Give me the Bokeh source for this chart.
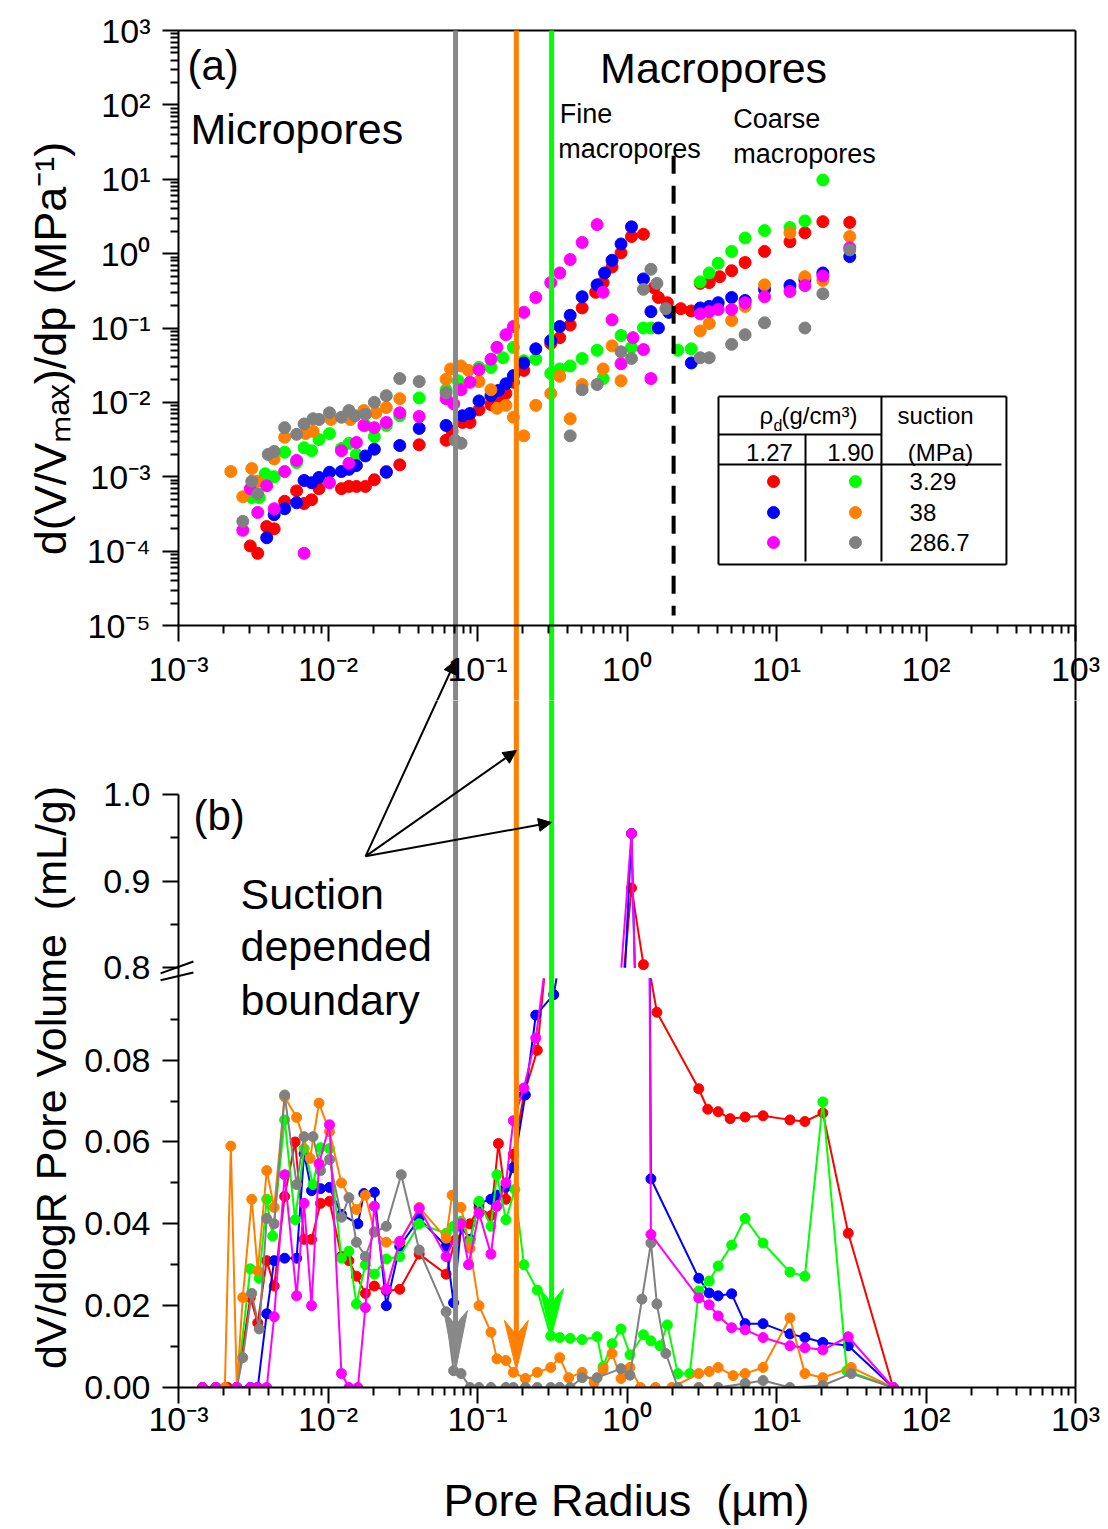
import numpy as np
from bokeh.plotting import figure
from bokeh.layouts import column
from bokeh.models import Range1d, LogAxis, LinearAxis, FixedTicker, Arrow, NormalHead
from bokeh.core.properties import value
from bokeh.embed import file_html
from bokeh.resources import INLINE

FONT = "Liberation Sans"
COLORS = {"red": "#FF0000", "blue": "#0000FF", "magenta": "#FF00FF",
          "green": "#00FF00", "orange": "#FF8000", "gray": "#808080"}

# ---------------- panel (a): log10(pore radius, um) and log10(d(V/Vmax)/dp, 1/MPa)
a_red_log_r = [-2.52,-2.47,-2.41,-2.36,-2.29,-2.21,-2.16,-2.11,-2.06,-1.91,-1.86,-1.81,-1.75,-1.69,-1.61,-1.52,-1.39,-1.21,-1.17,-1.10,-1.05,-0.99,-0.91,-0.86,-0.81,-0.76,-0.69,-0.51,-0.45,-0.38,-0.30,-0.21,-0.16,-0.10,-0.04,0.03,0.11,0.18,0.21,0.27,0.36,0.43,0.49,0.55,0.62,0.70,0.79,0.92,1.09,1.19,1.31,1.49]
a_red_log_v = [-3.93,-4.03,-3.67,-3.70,-3.33,-3.19,-3.36,-3.31,-3.16,-3.16,-3.13,-3.13,-3.13,-3.04,-2.93,-2.84,-2.57,-2.51,-2.39,-2.27,-2.27,-2.10,-2.03,-1.98,-1.88,-1.73,-1.57,-1.21,-1.13,-0.96,-0.73,-0.52,-0.39,-0.18,0.01,0.23,0.26,-0.46,-0.59,-0.66,-0.74,-0.77,-0.40,-0.39,-0.31,-0.23,-0.12,0.03,0.16,0.28,0.43,0.42]

a_blue_log_r = [-2.41,-2.36,-2.29,-2.21,-2.16,-2.11,-2.06,-1.99,-1.91,-1.86,-1.81,-1.75,-1.69,-1.61,-1.52,-1.39,-1.21,-1.10,-1.05,-0.99,-0.91,-0.86,-0.81,-0.76,-0.69,-0.61,-0.51,-0.45,-0.38,-0.30,-0.20,-0.15,-0.10,-0.04,0.03,0.11,0.16,0.21,0.28,0.43,0.49,0.55,0.61,0.70,0.79,0.92,1.09,1.19,1.31,1.49]
a_blue_log_v = [-3.82,-3.51,-3.43,-3.35,-3.05,-3.08,-3.01,-2.94,-2.93,-2.90,-2.85,-2.72,-2.63,-2.94,-2.58,-2.35,-2.31,-2.18,-2.15,-1.98,-1.91,-1.84,-1.75,-1.64,-1.47,-1.28,-1.17,-0.98,-0.83,-0.58,-0.42,-0.26,-0.09,0.13,0.36,-0.34,-0.78,-1.00,-0.79,-1.47,-0.73,-0.71,-0.66,-0.59,-0.63,-0.48,-0.43,-0.35,-0.26,-0.04]

a_magenta_log_r = [-2.57,-2.52,-2.47,-2.41,-2.36,-2.29,-2.21,-2.16,-1.99,-1.91,-1.86,-1.81,-1.76,-1.69,-1.61,-1.52,-1.39,-1.21,-1.16,-1.11,-1.05,-0.99,-0.91,-0.87,-0.81,-0.76,-0.69,-0.61,-0.51,-0.45,-0.38,-0.30,-0.20,-0.16,-0.10,-0.04,0.04,0.11,0.16,0.49,0.55,0.61,0.70,0.79,0.92,1.09,1.19,1.31,1.49]
a_magenta_log_v = [-3.72,-3.16,-3.48,-3.12,-3.43,-2.93,-2.78,-4.03,-3.08,-2.65,-2.82,-2.54,-2.31,-2.34,-2.27,-2.14,-2.19,-1.95,-2.02,-1.83,-1.73,-1.56,-1.42,-1.26,-1.09,-0.98,-0.79,-0.59,-0.39,-0.26,-0.08,0.15,0.39,-0.52,-0.89,-1.48,-1.13,-1.29,-1.68,-0.81,-0.78,-0.75,-0.75,-0.66,-0.58,-0.51,-0.43,-0.30,0.08]

a_green_log_r = [-2.51,-2.46,-2.42,-2.36,-2.29,-2.21,-2.16,-2.11,-2.06,-1.99,-1.91,-1.86,-1.81,-1.75,-1.69,-1.61,-1.52,-1.39,-1.21,-1.13,-0.99,-0.91,-0.83,-0.76,-0.69,-0.61,-0.51,-0.45,-0.38,-0.30,-0.20,-0.16,-0.04,0.03,0.11,0.16,0.34,0.43,0.49,0.55,0.61,0.70,0.79,0.92,1.09,1.19,1.31]
a_green_log_v = [-3.28,-3.28,-2.96,-3.00,-2.67,-2.81,-2.61,-2.65,-2.50,-2.42,-2.62,-2.55,-2.70,-2.31,-2.46,-2.31,-2.18,-1.94,-1.83,-1.71,-1.53,-1.53,-1.40,-1.26,-1.44,-1.42,-1.61,-1.55,-1.51,-1.41,-1.30,-1.68,-1.10,-1.26,-1.00,-1.00,-1.30,-1.28,-0.38,-0.26,-0.13,0.03,0.21,0.31,0.35,0.44,0.99]

a_orange_log_r = [-2.65,-2.57,-2.51,-2.47,-2.36,-2.29,-2.15,-2.10,-1.98,-1.85,-1.76,-1.68,-1.61,-1.52,-1.21,-1.18,-1.11,-1.06,-0.99,-0.91,-0.87,-0.81,-0.76,-0.69,-0.61,-0.51,-0.45,-0.38,-0.30,-0.16,-0.10,-0.04,0.49,0.55,0.70,0.79,0.92,1.09,1.19,1.31,1.49]
a_orange_log_v = [-2.93,-3.27,-2.89,-3.06,-2.76,-2.47,-2.42,-2.39,-2.23,-2.23,-2.11,-2.14,-2.07,-1.95,-1.69,-1.55,-1.51,-1.57,-1.72,-1.83,-2.08,-2.04,-2.20,-2.45,-2.04,-1.88,-1.65,-2.22,-1.76,-1.55,-1.24,-1.71,-1.04,-0.94,-0.90,-0.71,-0.42,0.28,-0.31,-0.36,0.23]

a_gray_log_r = [-2.57,-2.51,-2.47,-2.40,-2.36,-2.29,-2.21,-2.16,-2.10,-2.06,-1.99,-1.91,-1.86,-1.82,-1.75,-1.69,-1.61,-1.52,-1.39,-1.21,-1.15,-1.11,-0.38,-0.30,-0.20,-0.04,0.03,0.11,0.16,0.20,0.26,0.49,0.55,0.70,0.79,0.92,1.19,1.31,1.49]
a_gray_log_v = [-3.60,-3.06,-3.23,-2.70,-2.66,-2.34,-2.43,-2.29,-2.22,-2.23,-2.14,-2.20,-2.11,-2.18,-2.16,-2.00,-1.91,-1.68,-1.72,-1.87,-2.51,-2.55,-2.45,-1.83,-1.76,-1.32,-1.41,-0.48,-0.21,-0.40,-0.74,-1.40,-1.40,-1.22,-1.09,-0.93,-1.00,-0.54,0.05]

# ---------------- panel (b): log10(pore radius, um) and dV/dlogR (mL/g)
b_red_log_r = [-2.84,-2.75,-2.67,-2.61,-2.52,-2.47,-2.41,-2.36,-2.29,-2.22,-2.16,-2.11,-2.05,-1.99,-1.91,-1.86,-1.81,-1.75,-1.69,-1.61,-1.52,-1.39,-1.21,-1.15,-1.05,-0.99,-0.91,-0.86,-0.81,-0.76,-0.69,-0.60,-0.45,-0.25,-0.06,0.03,0.11,0.155,0.20,0.48,0.54,0.61,0.69,0.79,0.91,1.09,1.19,1.31,1.48,1.78]
b_red_v = [0,0,0,0,0.022,0.0158,0.031,0.0248,0.0467,0.060,0.0362,0.0362,0.045,0.0455,0.032,0.031,0.0272,0.023,0.0248,0.0236,0.024,0.0326,0.0277,0.036,0.040,0.044,0.042,0.0596,0.046,0.057,0.0715,0.0824,0.14,0.35,0.72,0.892,0.8035,0.101,0.0917,0.073,0.068,0.0674,0.0657,0.0661,0.0664,0.0654,0.065,0.0671,0.0377,0]

b_blue_log_r = [-2.84,-2.75,-2.61,-2.52,-2.47,-2.41,-2.36,-2.29,-2.21,-2.16,-2.11,-2.05,-1.99,-1.91,-1.80,-1.76,-1.69,-1.61,-1.52,-1.39,-1.21,-1.16,-1.11,-1.05,-0.99,-0.91,-0.87,-0.81,-0.76,-0.68,-0.61,-0.49,-0.38,-0.20,-0.04,0.03,0.16,0.48,0.55,0.61,0.70,0.79,0.91,1.09,1.19,1.31,1.48,1.78]
b_blue_v = [0,0,0,0,0,0.018,0.031,0.0316,0.0316,0.0571,0.0481,0.0486,0.0489,0.0423,0.040,0.0474,0.0477,0.020,0.0345,0.0413,0.0345,0.0207,0.0394,0.0362,0.045,0.046,0.047,0.049,0.0537,0.0715,0.091,0.096,0.12,0.35,0.70,0.955,0.051,0.0267,0.0231,0.0224,0.0229,0.0156,0.0156,0.0131,0.0122,0.011,0.0102,0]

b_magenta_log_r = [-2.84,-2.75,-2.61,-2.52,-2.47,-2.41,-2.36,-2.29,-2.21,-2.16,-2.11,-2.06,-1.99,-1.91,-1.86,-1.80,-1.75,-1.69,-1.61,-1.52,-1.39,-1.21,-1.11,-1.06,-0.99,-0.91,-0.87,-0.81,-0.76,-0.69,-0.61,-0.45,-0.25,-0.06,0.03,0.16,0.48,0.55,0.61,0.70,0.79,0.91,1.09,1.19,1.31,1.48,1.78]
b_magenta_v = [0,0,0,0,0,0,0.0173,0.052,0.0224,0.045,0.020,0.0547,0.0642,0.0034,0,0,0.0195,0.0443,0.024,0.0357,0.0438,0.032,0.040,0.030,0.0426,0.0326,0.0443,0.050,0.0652,0.0732,0.0854,0.13,0.45,0.75,0.955,0.0374,0.0219,0.0202,0.0175,0.0146,0.0141,0.0122,0.0102,0.0097,0.0092,0.0124,0]

b_green_log_r = [-2.84,-2.75,-2.61,-2.52,-2.46,-2.41,-2.37,-2.29,-2.22,-2.16,-2.10,-2.05,-1.99,-1.91,-1.86,-1.81,-1.75,-1.69,-1.61,-1.52,-1.39,-1.21,-1.16,-1.11,-1.05,-0.99,-0.91,-0.87,-0.81,-0.75,-0.69,-0.60,-0.51,-0.45,-0.38,-0.30,-0.20,-0.16,-0.10,-0.04,0.02,0.11,0.16,0.22,0.27,0.34,0.42,0.48,0.55,0.61,0.70,0.79,0.91,1.09,1.19,1.31,1.47,1.78]
b_green_v = [0,0,0,0.029,0.0267,0.046,0.037,0.0654,0.041,0.0584,0.0496,0.0586,0.0584,0.0316,0.0333,0.0204,0.030,0.0277,0.0314,0.032,0.040,0.0377,0.0394,0.0406,0.0357,0.0455,0.0394,0.052,0.041,0.0484,0.030,0.0238,0.0126,0.0122,0.012,0.0117,0.0124,0.0051,0.0107,0.0143,0.008,0.0129,0.0114,0.0102,0.0153,0.0034,0.0034,0.0236,0.026,0.0297,0.0348,0.0413,0.0353,0.0282,0.0272,0.0698,0.0041,0]

b_orange_log_r = [-2.84,-2.75,-2.69,-2.65,-2.61,-2.57,-2.51,-2.47,-2.41,-2.36,-2.29,-2.21,-2.12,-2.06,-1.99,-1.91,-1.81,-1.75,-1.69,-1.61,-1.52,-1.39,-1.21,-1.17,-1.11,-1.05,-0.99,-0.91,-0.87,-0.81,-0.76,-0.68,-0.60,-0.51,-0.45,-0.39,-0.30,-0.22,-0.16,-0.10,-0.04,0.02,0.09,0.19,0.30,0.48,0.55,0.61,0.71,0.79,0.91,1.09,1.19,1.31,1.50,1.78]
b_orange_v = [0,0,0,0.059,0,0.022,0.046,0.0285,0.053,0.044,0.071,0.066,0.056,0.0695,0.0625,0.050,0.0435,0.047,0.038,0.0355,0.0355,0.044,0.0365,0.047,0.044,0.034,0.020,0.0135,0.007,0.0066,0.0037,0.0022,0.0037,0.0049,0.0073,0.0024,0.0037,0.0012,0.0044,0.0083,0.0022,0.0049,0,0,0,0.0034,0.0039,0.0049,0.0029,0.0034,0.0049,0.017,0.0034,0.0024,0.0049,0]

b_gray_log_r = [-2.84,-2.75,-2.61,-2.57,-2.51,-2.46,-2.41,-2.36,-2.29,-2.21,-2.16,-2.10,-2.05,-1.99,-1.91,-1.86,-1.81,-1.75,-1.69,-1.61,-1.51,-1.39,-1.21,-1.16,-1.11,-1.05,-0.99,-0.91,-0.81,-0.76,-0.68,-0.60,-0.51,-0.45,-0.38,-0.30,-0.20,-0.04,0.02,0.10,0.16,0.20,0.26,0.34,0.48,0.61,0.79,0.91,1.09,1.31,1.50,1.78]
b_gray_v = [0,0,0,0.0073,0.023,0.0143,0.0413,0.040,0.0715,0.0496,0.0613,0.0613,0.053,0.0557,0.0416,0.0464,0.0355,0.032,0.038,0.0394,0.052,0.0336,0.0185,0.0041,0.0034,0,0,0,0,0,0,0,0,0,0,0.0024,0.0024,0.0046,0.003,0.0216,0.0353,0.0204,0.0083,0,0,0,0.001,0.0017,0,0.0005,0.0034,0]

# suction dependent boundaries (um) and macropore split (um)
boundary_r = {"gray": 0.0713, "orange": 0.182, "green": 0.313}
fine_coarse_r = 2.05

legend_rows = [("red", "green", "3.29"), ("blue", "orange", "38"), ("magenta", "gray", "286.7")]

SUP = str.maketrans("-0123456789", "⁻⁰¹²³⁴⁵⁶⁷⁸⁹")
NBSP = "\u00a0"

# ---------------- broken y scale for panel (b): 0-0.1 and 0.8-1.0
LOW_TOP, UP_BOT = 0.1, 0.8
GAP = 0.0026
RATIO = 0.2116


def brk(v):
    v = np.asarray(v, dtype=float)
    return np.where(v <= LOW_TOP, v,
                    np.where(v < UP_BOT, LOW_TOP + (v - LOW_TOP) / (UP_BOT - LOW_TOP) * GAP,
                             LOW_TOP + GAP + (v - UP_BOT) * RATIO))


def split_break(lr, v):
    """Polyline clipped to the two visible segments of the broken axis."""
    lr = [float(a) for a in lr]
    v = [float(a) for a in v]
    out_x, out_y = [], []
    for low, lim in ((True, LOW_TOP), (False, UP_BOT)):
        xs, ys = [], []
        inside = (lambda q: q <= lim) if low else (lambda q: q >= lim)
        for i in range(len(v) - 1):
            x0, v0, x1, v1 = lr[i], v[i], lr[i + 1], v[i + 1]
            a, b = inside(v0), inside(v1)
            if not (a or b):
                continue
            if a and b:
                seg = [(x0, v0), (x1, v1)]
            else:
                t = (lim - v0) / (v1 - v0)
                xc = x0 + t * (x1 - x0)
                seg = [(x0, v0), (xc, lim)] if a else [(xc, lim), (x1, v1)]
            if xs and xs[-1] == seg[0][0] and ys[-1] == seg[0][1]:
                xs.append(seg[1][0]); ys.append(seg[1][1])
            else:
                if xs:
                    xs.append(np.nan); ys.append(np.nan)
                xs += [seg[0][0], seg[1][0]]
                ys += [seg[0][1], seg[1][1]]
        if out_x and xs:
            out_x.append(np.nan); out_y.append(np.nan)
        out_x += xs
        out_y += ys
    return 10 ** np.array(out_x), brk(out_y)


def style(ax, size="34px", standoff=12):
    ax.axis_line_width = 2
    ax.axis_line_color = "black"
    ax.major_tick_line_width = 2
    ax.minor_tick_line_width = 2
    ax.major_tick_line_color = "black"
    ax.minor_tick_line_color = "black"
    ax.major_tick_in = 0
    ax.major_tick_out = 16
    ax.minor_tick_in = 0
    ax.minor_tick_out = 8
    ax.major_label_text_font = FONT
    ax.major_label_text_font_size = size
    ax.major_label_text_color = "black"
    ax.major_label_standoff = standoff


def txt(p, x, y, s, size, align="left", angle=0.0):
    p.text(x=[x], y=[y], text=[s], text_font=value(FONT), text_font_size=value(size),
           text_baseline="middle", text_align=align, text_color="black", angle=angle)


x_major = [10.0 ** k for k in range(-3, 4)]
x_minor = [m * 10.0 ** k for k in range(-3, 3) for m in range(2, 10)]
x_labels = {t: "10" + str(k).translate(SUP) for t, k in zip(x_major, range(-3, 4))}

# shared horizontal geometry: 6 decades over 897 px, frame covering the full width
DEC_X = 897 / 6
X_RANGE = (10 ** (-3 - 178 / DEC_X), 10 ** (3 + 33 / DEC_X))
TITLE_X = 10 ** (-3 - 128 / DEC_X)

# ================= panel (a)
DEC_Y = 595 / 8
p1 = figure(width=1108, height=700, x_axis_type="log", y_axis_type="log",
            x_axis_location=None, y_axis_location=None,
            x_range=Range1d(*X_RANGE),
            y_range=Range1d(10 ** (-5 - 75 / DEC_Y), 10 ** (3 + 30 / DEC_Y)),
            min_border_left=0, min_border_right=0, min_border_top=0, min_border_bottom=0,
            output_backend="svg", toolbar_location=None, outline_line_color=None)
p1.grid.visible = False
Y1_LOW = 10 ** (-5 - 80 / DEC_Y)

ax = LogAxis(ticker=FixedTicker(ticks=x_major, minor_ticks=x_minor),
             major_label_overrides=x_labels, fixed_location=1e-5, bounds=(1e-3, 1e3))
style(ax, standoff=8)
p1.add_layout(ax, "below")

y_major = [10.0 ** k for k in range(-5, 4)]
y_minor = [m * 10.0 ** k for k in range(-5, 3) for m in range(2, 10)]
ay = LogAxis(ticker=FixedTicker(ticks=y_major, minor_ticks=y_minor),
             major_label_overrides={t: "10" + str(k).translate(SUP) for t, k in zip(y_major, range(-5, 4))},
             bounds=(1e-5, 1e3), fixed_location=1e-3)
style(ay)
p1.add_layout(ay, "left")

# frame: top edge and right edge
p1.line(x=[1e-3, 1e3], y=[1e3, 1e3], line_color="black", line_width=2)
p1.line(x=[1e3, 1e3], y=[1e3, Y1_LOW], line_color="black", line_width=2)

txt(p1, TITLE_X, 10 ** (-5 + 277 / DEC_Y), "d(V/Vₘₐₓ)/dp (MPa⁻¹)", "45px", "center", np.pi / 2)

a_series = [("red", a_red_log_r, a_red_log_v), ("green", a_green_log_r, a_green_log_v),
            ("blue", a_blue_log_r, a_blue_log_v), ("orange", a_orange_log_r, a_orange_log_v),
            ("magenta", a_magenta_log_r, a_magenta_log_v), ("gray", a_gray_log_r, a_gray_log_v)]
for name, lr, lv in a_series:
    p1.scatter(x=10 ** np.array(lr), y=10 ** np.array(lv), size=12,
               fill_color=COLORS[name], line_color=COLORS[name])

txt(p1, 10 ** -2.94, 10 ** 2.53, "(a)", "42px")
txt(p1, 10 ** -2.92, 10 ** 1.68, "Micropores", "43px")
txt(p1, 10 ** -0.18, 10 ** 2.50, "Macropores", "43px")
txt(p1, 10 ** -0.45, 10 ** 1.88, "Fine", "27px")
txt(p1, 10 ** -0.46, 10 ** 1.41, "macropores", "27px")
txt(p1, 10 ** 0.71, 10 ** 1.81, "Coarse", "27px")
txt(p1, 10 ** 0.71, 10 ** 1.34, "macropores", "27px")

# fine / coarse macropore split
p1.line(x=[fine_coarse_r, fine_coarse_r], y=[10 ** 1.317, 10 ** -4.866],
        line_color="black", line_width=4, line_dash="18 12")

# legend table
lx0, lx1, lxa, lxb, lxc = 10 ** 0.612, 10 ** 2.538, 10 ** 1.194, 10 ** 1.702, 10 ** 2.505
ly0, ly1, lh1, lh2, lvb = 10 ** -1.922, 10 ** -4.180, 10 ** -2.433, 10 ** -2.836, 10 ** -4.140
p1.segment(x0=[lx0, lx0, lx0, lx1, lx0, lx0, lxa, lxb],
           y0=[ly0, ly1, ly0, ly0, lh1, lh2, lh1, ly0],
           x1=[lx1, lx1, lx0, lx1, lxb, lxc, lxa, lxb],
           y1=[ly0, ly1, ly1, ly1, lh1, lh2, lvb, lvb],
           line_color="black", line_width=2)
row_y = [10 ** -3.065, 10 ** -3.481, 10 ** -3.884]
p1.scatter(x=[10 ** 0.98] * 3 + [10 ** 1.528] * 3, y=row_y * 2, size=12,
           color=[COLORS[r[0]] for r in legend_rows] + [COLORS[r[1]] for r in legend_rows])
for yy, r in zip(row_y, legend_rows):
    txt(p1, 10 ** 1.89, yy, r[2], "24px")
txt(p1, 10 ** 0.886, 10 ** -2.178, "ρ", "24px")
txt(p1, 10 ** 0.98, 10 ** -2.312, "d", "16px")
txt(p1, 10 ** 1.033, 10 ** -2.178, "(g/cm³)", "24px")
txt(p1, 10 ** 2.064, 10 ** -2.178, "suction", "24px", "center")
txt(p1, 10 ** 0.953, 10 ** -2.675, "1.27", "24px", "center")
txt(p1, 10 ** 1.495, 10 ** -2.675, "1.90", "24px", "center")
txt(p1, 10 ** 2.097, 10 ** -2.675, "(MPa)", "24px", "center")

LINE_COL = {"gray": "#888888", "orange": COLORS["orange"], "green": COLORS["green"]}
for name, r in boundary_r.items():
    p1.line(x=[r, r], y=[1e3, Y1_LOW], line_color=LINE_COL[name], line_width=5)

p1.add_layout(Arrow(end=NormalHead(size=13, fill_color="black", line_color="black"),
                    x_start=10 ** -1.749, y_start=10 ** (-5 - 231 / DEC_Y),
                    x_end=boundary_r["gray"], y_end=10 ** (-5 - 35 / DEC_Y),
                    line_color="black", line_width=2))

# ================= panel (b)
PX_LOW = 4092.0
p2 = figure(width=1108, height=829, x_axis_type="log", x_axis_location=None, y_axis_location=None,
            x_range=Range1d(*X_RANGE), y_range=Range1d(-142 / PX_LOW, 687 / PX_LOW),
            min_border_left=0, min_border_right=0, min_border_top=0, min_border_bottom=0,
            output_backend="svg", toolbar_location=None, outline_line_color=None)
p2.grid.visible = False
Y2_TOP = 700 / PX_LOW

b_series = [("red", b_red_log_r, b_red_v), ("blue", b_blue_log_r, b_blue_v),
            ("green", b_green_log_r, b_green_v), ("orange", b_orange_log_r, b_orange_v),
            ("gray", b_gray_log_r, b_gray_v), ("magenta", b_magenta_log_r, b_magenta_v)]
for name, lr, vv in b_series:
    lx_, ly_ = split_break(lr, vv)
    p2.line(x=lx_, y=ly_, line_color=COLORS[name], line_width=2)
    vis = [(a, b) for a, b in zip(lr, vv) if b <= LOW_TOP or b >= UP_BOT]
    p2.scatter(x=10 ** np.array([a for a, _ in vis]), y=brk([b for _, b in vis]), size=10,
               fill_color=COLORS[name], line_color=COLORS[name])

# nothing is drawn below the zero line
p2.quad(left=1e-5, right=1e4, bottom=-1, top=0, fill_color="white", line_color=None)

bx = LogAxis(ticker=FixedTicker(ticks=x_major, minor_ticks=x_minor),
             major_label_overrides=x_labels, fixed_location=0, bounds=(1e-3, 1e3))
style(bx, standoff=-4)
p2.add_layout(bx, "below")

low_major = [0.0, 0.02, 0.04, 0.06, 0.08]
up_major = [0.8, 0.9, 1.0]
up_t = [float(v) for v in brk(up_major)]
b_ticks = low_major + up_t
b_labels = {t: f"{t:.2f}" for t in low_major}
b_labels.update({t: f"{v:.1f}" for t, v in zip(up_t, up_major)})
b_minor = [0.01, 0.03, 0.05, 0.07, 0.09] + [float(v) for v in brk([0.85, 0.95])]
by = LinearAxis(ticker=FixedTicker(ticks=b_ticks, minor_ticks=b_minor),
                major_label_overrides=b_labels, bounds=(0, up_t[-1]), fixed_location=1e-3)
style(by)
p2.add_layout(by, "left")

p2.line(x=[1e3, 1e3], y=[0, Y2_TOP], line_color="black", line_width=2)

txt(p2, TITLE_X, 310 / PX_LOW, "dV/dlogR Pore Volume" + NBSP + " (mL/g)", "43px", "center", np.pi / 2)
txt(p2, 10 ** -0.003, -113 / PX_LOW, "Pore Radius" + NBSP + " (µm)", "45px", "center")

# boundaries with arrow heads in panel (b)
heads = {"gray": (0.0041, 0.0188), "orange": (0.0042, 0.0164), "green": (0.0127, 0.0242)}
hw = 10 ** 0.08
for name, r in boundary_r.items():
    col = LINE_COL[name]
    tip, base = heads[name]
    notch = base - 0.0035
    p2.line(x=[r, r], y=[Y2_TOP, notch], line_color=col, line_width=5)
    p2.patch(x=[r / hw, r, r * hw, r], y=[base, tip, base, notch], fill_color=col, line_color=col)

txt(p2, 10 ** -2.90, 0.1398, "(b)", "42px")
txt(p2, 10 ** -2.585, 0.1207, "Suction", "43px")
txt(p2, 10 ** -2.585, 0.1078, "depended", "43px")
txt(p2, 10 ** -2.585, 0.0946, "boundary", "43px")

tips = {"gray": 727 / PX_LOW, "orange": 637 / PX_LOW, "green": 565 / PX_LOW}
for name, r in boundary_r.items():
    p2.add_layout(Arrow(end=NormalHead(size=13, fill_color="black", line_color="black"),
                        x_start=10 ** -1.749, y_start=0.1298, x_end=r, y_end=tips[name],
                        line_color="black", line_width=2))

# axis break marks
p2.segment(x0=[10 ** -3.12, 10 ** -3.12], y0=[0.0995, 0.1012],
           x1=[10 ** -2.90, 10 ** -2.90], y1=[0.1014, 0.1041],
           line_color="black", line_width=2)

layout = column(p1, p2, spacing=0)
open("out.html", "w").write(file_html(layout, INLINE))
